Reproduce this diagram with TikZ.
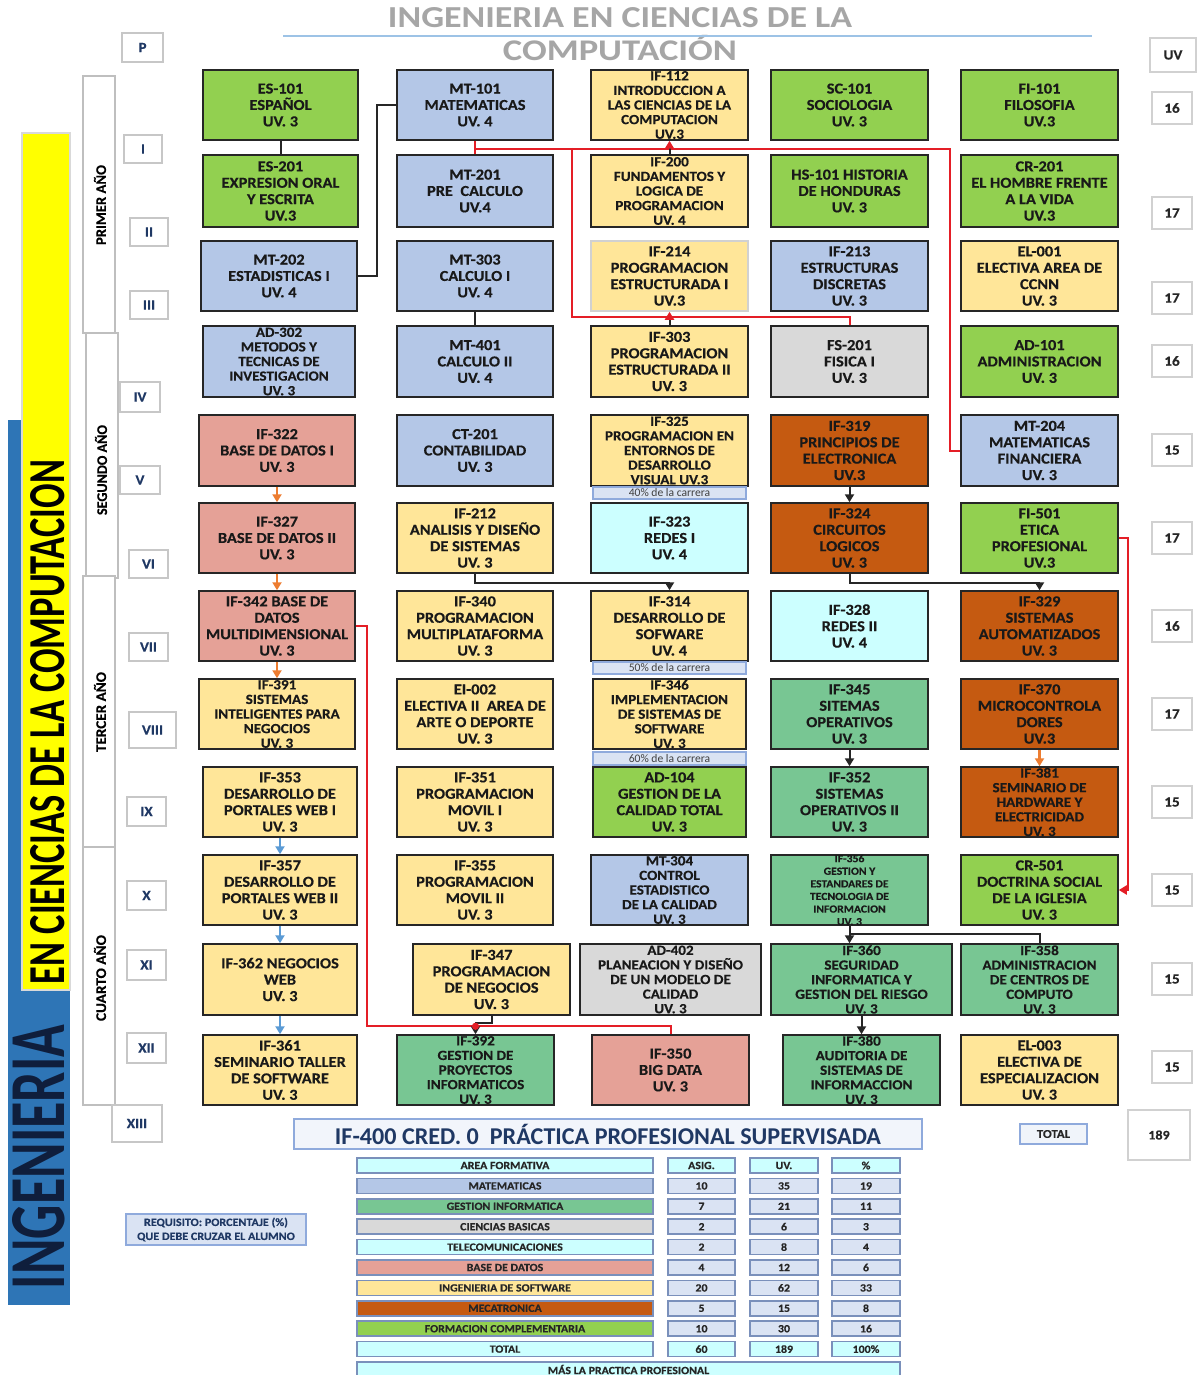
\documentclass[tikz,border=0pt]{standalone}
\usepackage{graphicx}
\usepackage{fontspec}
\setmainfont{Carlito}
\newfontfamily\crsfamily{Carlito}[FakeStretch=1.08,FakeBold=0.4]
\usetikzlibrary{arrows.meta,calc}
\definecolor{cgreen}{HTML}{92D050}
\definecolor{cblue}{HTML}{B4C7E7}
\definecolor{cyel}{HTML}{FFE699}
\definecolor{cgray}{HTML}{D9D9D9}
\definecolor{csal}{HTML}{E5A197}
\definecolor{corg}{HTML}{C55A11}
\definecolor{ccyan}{HTML}{CCFFFF}
\definecolor{cteal}{HTML}{78C693}
\definecolor{clav}{HTML}{DAE3F3}
\definecolor{cbord}{HTML}{8FAADC}
\definecolor{cnavy}{HTML}{1F3864}
\definecolor{carrO}{HTML}{ED7D31}
\definecolor{carrB}{HTML}{5B9BD5}
\definecolor{cred}{HTML}{E41E26}
\definecolor{cband}{HTML}{2E75B6}
\definecolor{ctitle}{HTML}{A6A6A6}
\definecolor{cline}{HTML}{9DC3E6}
\definecolor{cingen}{HTML}{0F1E3C}
\definecolor{cband2}{HTML}{FFFF00}

\newcommand\mybx[7]{%
  \pgfmathsetmacro\bxW{((#3)-(#2))*0.5}%
  \pgfmathsetmacro\bxH{((#5)-(#4))*0.5}%
  \pgfmathsetmacro\bxX{((#2)+(#3))/2}%
  \pgfmathsetmacro\bxY{((#4)+(#5))/2}%
  \node[#6,minimum width=\bxW pt,minimum height=\bxH pt] (#1) at (\bxX,\bxY) {#7};}
\newcommand\mycrs[8][ctext]{%
  \mybx{#2}{#3}{#4}{#5}{#6}{course,fill=#7}{}%
  \node[#1] (#2t) at (#2.center) {#8};}

\tikzset{
  course/.style={draw=black!85,line width=0.75pt,inner sep=0pt},
  ctext/.style={align=center,inner sep=0pt,text=black!90,font=\crsfamily\bfseries\fontsize{7.6}{8.2}\selectfont},
  ctextS/.style={ctext,font=\crsfamily\bfseries\fontsize{7}{7.3}\selectfont},
  ctextXS/.style={ctext,font=\crsfamily\bfseries\fontsize{5.4}{6.3}\selectfont},
  semb/.style={draw=black!22,line width=0.9pt,fill=white,inner sep=0pt,text=cnavy,font=\crsfamily\bfseries\fontsize{7}{8}\selectfont},
  yearb/.style={draw=black!25,line width=1pt,fill=white,inner sep=0pt},
  yeart/.style={rotate=90,inner sep=0pt,text=black,font=\crsfamily\bfseries},
  uvb/.style={draw=black!18,line width=0.9pt,fill=white,inner sep=0pt,text=black!85,font=\crsfamily\bfseries\fontsize{7}{8}\selectfont},
  pct/.style={draw=cbord,line width=0.8pt,fill=clav,inner sep=0pt,text=black!75,font=\fontsize{5.8}{6}\selectfont},
  tcell/.style={draw=cbord!85!black,line width=0.8pt,inner sep=0pt,text=black!85,font=\crsfamily\bfseries\fontsize{5.5}{6}\selectfont},
  blk/.style={draw=black!85,line width=1pt},
  blkA/.style={blk,-{Triangle[length=4pt,width=4.5pt]}},
  blkR/.style={blk,-{Triangle[length=4pt,width=4.5pt,color=cred]}},
  orgA/.style={draw=carrO,line width=1.2pt,-{Triangle[length=4pt,width=4.5pt]}},
  bluA/.style={draw=carrB,line width=1.2pt,-{Triangle[length=4pt,width=4.5pt]}},
  redl/.style={draw=cred,line width=1pt},
  redA/.style={redl,-{Triangle[length=4pt,width=4.5pt]}}
}

\begin{document}
\begin{tikzpicture}[x=0.5pt,y=-0.5pt]
\useasboundingbox (0,0) rectangle (1196,1375);
\fill[white] (0,0) rectangle (1196,1375);

% ---------- title ----------
\node[inner sep=0pt,text=ctitle] (title1) at (620,18) {\resizebox{232pt}{10pt}{\bfseries INGENIERIA EN CIENCIAS DE LA}};
\node[inner sep=0pt,text=ctitle] (title2) at (620,48) {\resizebox{117pt}{12.6pt}{\bfseries COMPUTACIÓN}};
\draw[cline,line width=1.1pt] (283,36) -- (1092,36);

% ---------- left bands ----------
\fill[cband] (8,420) rectangle (70,1305);
\fill[cband2] (22,133) rectangle (70,990);
\draw[black!15,line width=0.6pt] (22,133) rectangle (70,990);
\node[rotate=90,inner sep=0pt,text=black] (bant1) at (48,722) {\resizebox{262pt}{17pt}{\bfseries EN CIENCIAS DE LA COMPUTACION}};
\node[rotate=90,inner sep=0pt,text=cingen] (bant2) at (39,1157) {\resizebox{132pt}{26pt}{\bfseries INGENIERIA}};

% ---------- year boxes ----------
\mybx{yr1}{83}{115}{76}{333}{yearb}{}
\mybx{yr2}{86}{118}{333}{578}{yearb}{}
\mybx{yr3}{83}{115}{576}{847}{yearb}{}
\mybx{yr4}{83}{115}{847}{1105}{yearb}{}
\node[yeart] (yr1t) at (100,205) {\resizebox{40pt}{6pt}{PRIMER AÑO}};
\node[yeart] (yr2t) at (101,470) {\resizebox{45pt}{6pt}{SEGUNDO AÑO}};
\node[yeart] (yr3t) at (100,712) {\resizebox{40pt}{6pt}{TERCER AÑO}};
\node[yeart] (yr4t) at (100,978) {\resizebox{43pt}{6pt}{CUARTO AÑO}};

% ---------- semester boxes ----------
\mybx{semP}{122}{163}{33}{62}{semb}{P}
\mybx{sem1}{124}{162}{135}{163}{semb}{I}
\mybx{sem2}{130}{168}{218}{246}{semb}{II}
\mybx{sem3}{130}{168}{291}{319}{semb}{III}
\mybx{sem4}{120}{160}{382}{412}{semb}{IV}
\mybx{sem5}{120}{160}{466}{494}{semb}{V}
\mybx{sem6}{129}{168}{550}{578}{semb}{VI}
\mybx{sem7}{129}{168}{633}{661}{semb}{VII}
\mybx{sem8}{129}{176}{712}{748}{semb}{VIII}
\mybx{sem9}{127}{166}{797}{826}{semb}{IX}
\mybx{sem10}{127}{166}{881}{910}{semb}{X}
\mybx{sem11}{127}{166}{950}{980}{semb}{XI}
\mybx{sem12}{127}{166}{1033}{1063}{semb}{XII}
\mybx{sem13}{112}{162}{1105}{1142}{semb}{XIII}

% ---------- UV column ----------
\mybx{uvh}{1150}{1196}{38}{72}{uvb}{UV}
\mybx{uv1}{1152}{1192}{92}{124}{uvb}{16}
\mybx{uv2}{1152}{1192}{197}{229}{uvb}{17}
\mybx{uv3}{1152}{1192}{282}{314}{uvb}{17}
\mybx{uv4}{1152}{1192}{345}{377}{uvb}{16}
\mybx{uv5}{1152}{1192}{434}{466}{uvb}{15}
\mybx{uv6}{1152}{1192}{522}{554}{uvb}{17}
\mybx{uv7}{1152}{1192}{610}{642}{uvb}{16}
\mybx{uv8}{1152}{1192}{698}{730}{uvb}{17}
\mybx{uv9}{1152}{1192}{786}{818}{uvb}{15}
\mybx{uv10}{1152}{1192}{874}{906}{uvb}{15}
\mybx{uv11}{1152}{1192}{963}{995}{uvb}{15}
\mybx{uv12}{1152}{1192}{1051}{1083}{uvb}{15}

% ---------- courses ----------
% row 1
\mycrs{es101}{203}{358}{70}{140}{cgreen}{ES-101\\ESPAÑOL\\UV. 3}
\mycrs{mt101}{397}{553}{70}{140}{cblue}{MT-101\\MATEMATICAS\\UV. 4}
\mycrs[ctextS]{if112}{591}{748}{70}{140}{cyel}{IF-112\\INTRODUCCION A\\LAS CIENCIAS DE LA\\COMPUTACION\\UV.3}
\mycrs{sc101}{771}{928}{70}{140}{cgreen}{SC-101\\SOCIOLOGIA\\UV. 3}
\mycrs{fi101}{961}{1118}{70}{140}{cgreen}{FI-101\\FILOSOFIA\\UV.3}
% row 2
\mycrs{es201}{203}{358}{155}{227}{cgreen}{ES-201\\EXPRESION ORAL\\Y ESCRITA\\UV.3}
\mycrs{mt201}{397}{553}{155}{227}{cblue}{MT-201\\PRE\ \ CALCULO\\UV.4}
\mycrs[ctextS]{if200}{591}{748}{155}{227}{cyel}{IF-200\\FUNDAMENTOS Y\\LOGICA DE\\PROGRAMACION\\UV. 4}
\mycrs{hs101}{771}{928}{155}{227}{cgreen}{HS-101 HISTORIA\\DE HONDURAS\\UV. 3}
\mycrs{cr201}{961}{1118}{155}{227}{cgreen}{CR-201\\EL HOMBRE FRENTE\\A LA VIDA\\UV.3}
% row 3
\mycrs{mt202}{201}{357}{241}{311}{cblue}{MT-202\\ESTADISTICAS I\\UV. 4}
\mycrs{mt303}{397}{553}{241}{311}{cblue}{MT-303\\CALCULO I\\UV. 4}
\mycrs{if214}{591}{748}{241}{311}{cyel,draw=black!18}{IF-214\\PROGRAMACION\\ESTRUCTURADA I\\UV.3}
\mycrs{if213}{771}{928}{241}{311}{cblue}{IF-213\\ESTRUCTURAS\\DISCRETAS\\UV. 3}
\mycrs{el001}{961}{1118}{241}{311}{cyel}{EL-001\\ELECTIVA AREA DE\\CCNN\\UV. 3}
% row 4
\mycrs[ctextS]{ad302}{203}{355}{326}{397}{cblue}{AD-302\\METODOS Y\\TECNICAS DE\\INVESTIGACION\\UV. 3}
\mycrs{mt401}{397}{553}{326}{397}{cblue}{MT-401\\CALCULO II\\UV. 4}
\mycrs{if303}{591}{748}{326}{397}{cyel}{IF-303\\PROGRAMACION\\ESTRUCTURADA II\\UV. 3}
\mycrs{fs201}{771}{928}{326}{397}{cgray}{FS-201\\FISICA I\\UV. 3}
\mycrs{ad101}{961}{1118}{326}{397}{cgreen}{AD-101\\ADMINISTRACION\\UV. 3}
% row 5
\mycrs{if322}{199}{355}{415}{486}{csal}{IF-322\\BASE DE DATOS I\\UV. 3}
\mycrs{ct201}{397}{553}{415}{486}{cblue}{CT-201\\CONTABILIDAD\\UV. 3}
\mycrs[ctextS]{if325}{591}{748}{415}{486}{cyel}{IF-325\\PROGRAMACION EN\\ENTORNOS DE\\DESARROLLO\\VISUAL UV.3}
\mycrs{if319}{771}{928}{415}{486}{corg}{IF-319\\PRINCIPIOS DE\\ELECTRONICA\\UV.3}
\mycrs{mt204}{961}{1118}{415}{486}{cblue}{MT-204\\MATEMATICAS\\FINANCIERA\\UV. 3}
\mybx{pct40}{593}{746}{487}{499}{pct}{40\% de la carrera}
% row 6
\mycrs{if327}{199}{355}{503}{573}{csal}{IF-327\\BASE DE DATOS II\\UV. 3}
\mycrs{if212}{397}{553}{503}{573}{cyel}{IF-212\\ANALISIS Y DISEÑO\\DE SISTEMAS\\UV. 3}
\mycrs{if323}{591}{748}{503}{573}{ccyan}{IF-323\\REDES I\\UV. 4}
\mycrs{if324}{771}{928}{503}{573}{corg}{IF-324\\CIRCUITOS\\LOGICOS\\UV. 3}
\mycrs{fi501}{961}{1118}{503}{573}{cgreen}{FI-501\\ETICA\\PROFESIONAL\\UV.3}
% row 7
\mycrs{if342}{199}{355}{591}{661}{csal}{IF-342 BASE DE\\DATOS\\MULTIDIMENSIONAL\\UV. 3}
\mycrs{if340}{397}{553}{591}{661}{cyel}{IF-340\\PROGRAMACION\\MULTIPLATAFORMA\\UV. 3}
\mycrs{if314}{591}{748}{591}{661}{cyel}{IF-314\\DESARROLLO DE\\SOFWARE\\UV. 4}
\mycrs{if328}{771}{928}{591}{661}{ccyan}{IF-328\\REDES II\\UV. 4}
\mycrs{if329}{961}{1118}{591}{661}{corg}{IF-329\\SISTEMAS\\AUTOMATIZADOS\\UV. 3}
\mybx{pct50}{593}{746}{662}{674}{pct}{50\% de la carrera}
% row 8
\mycrs[ctextS]{if391}{199}{355}{679}{749}{cyel}{IF-391\\SISTEMAS\\INTELIGENTES PARA\\NEGOCIOS\\UV. 3}
\mycrs{ei002}{397}{553}{679}{749}{cyel}{EI-002\\ELECTIVA II\ \ AREA DE\\ARTE O DEPORTE\\UV. 3}
\mycrs[ctextS]{if346}{593}{746}{679}{749}{cyel}{IF-346\\IMPLEMENTACION\\DE SISTEMAS DE\\SOFTWARE\\UV. 3}
\mycrs{if345}{771}{928}{679}{749}{cteal}{IF-345\\SITEMAS\\OPERATIVOS\\UV. 3}
\mycrs{if370}{961}{1118}{679}{749}{corg}{IF-370\\MICROCONTROLA\\DORES\\UV.3}
\mybx{pct60}{593}{746}{752}{765}{pct}{60\% de la carrera}
% row 9
\mycrs{if353}{203}{357}{767}{837}{cyel}{IF-353\\DESARROLLO DE\\PORTALES WEB I\\UV. 3}
\mycrs{if351}{397}{553}{767}{837}{cyel}{IF-351\\PROGRAMACION\\MOVIL I\\UV. 3}
\mycrs{ad104}{593}{746}{767}{837}{cgreen}{AD-104\\GESTION DE LA\\CALIDAD TOTAL\\UV. 3}
\mycrs{if352}{771}{928}{767}{837}{cteal}{IF-352\\SISTEMAS\\OPERATIVOS II\\UV. 3}
\mycrs[ctextS]{if381}{961}{1118}{767}{837}{corg}{IF-381\\SEMINARIO DE\\HARDWARE Y\\ELECTRICIDAD\\UV. 3}
% row 10
\mycrs{if357}{203}{357}{855}{925}{cyel}{IF-357\\DESARROLLO DE\\PORTALES WEB II\\UV. 3}
\mycrs{if355}{397}{553}{855}{925}{cyel}{IF-355\\PROGRAMACION\\MOVIL II\\UV. 3}
\mycrs[ctextS]{mt304}{591}{748}{855}{925}{cblue}{MT-304\\CONTROL\\ESTADISTICO\\DE LA CALIDAD\\UV. 3}
\mycrs[ctextXS]{if356}{771}{928}{855}{925}{cteal}{IF-356\\GESTION Y\\ESTANDARES DE\\TECNOLOGIA DE\\INFORMACION\\UV. 3}
\mycrs{cr501}{961}{1118}{855}{925}{cgreen}{CR-501\\DOCTRINA SOCIAL\\DE LA IGLESIA\\UV. 3}
% row 11
\mycrs{if362}{203}{357}{944}{1015}{cyel}{IF-362 NEGOCIOS\\WEB\\UV. 3}
\mycrs{if347}{413}{570}{944}{1015}{cyel}{IF-347\\PROGRAMACION\\DE NEGOCIOS\\UV. 3}
\mycrs[ctextS]{ad402}{580}{761}{944}{1015}{cgray}{AD-402\\PLANEACION Y DISEÑO\\DE UN MODELO DE\\CALIDAD\\UV. 3}
\mycrs[ctextS]{if360}{771}{952}{944}{1015}{cteal}{IF-360\\SEGURIDAD\\INFORMATICA Y\\GESTION DEL RIESGO\\UV. 3}
\mycrs[ctextS]{if358}{961}{1118}{944}{1015}{cteal}{IF-358\\ADMINISTRACION\\DE CENTROS DE\\COMPUTO\\UV. 3}
% row 12
\mycrs{if361}{203}{357}{1035}{1105}{cyel}{IF-361\\SEMINARIO TALLER\\DE SOFTWARE\\UV. 3}
\mycrs[ctextS]{if392}{397}{554}{1035}{1105}{cteal}{IF-392\\GESTION DE\\PROYECTOS\\INFORMATICOS\\UV. 3}
\mycrs{if350}{592}{749}{1035}{1105}{csal}{IF-350\\BIG DATA\\UV. 3}
\mycrs[ctextS]{if380}{783}{940}{1035}{1105}{cteal}{IF-380\\AUDITORIA DE\\SISTEMAS DE\\INFORMACCION\\UV. 3}
\mycrs{el003}{961}{1118}{1035}{1105}{cyel}{EL-003\\ELECTIVA DE\\ESPECIALIZACION\\UV. 3}

% ---------- connectors ----------
\draw[blk] (es101.south) -- (es201.north);
\draw[blk] (mt202.east) -- ++(19,0) |- (mt101.west);
\draw[blk] (mt303.south) -- (mt401.north);
\draw[redl] (mt101.south) -- (mt201.north);
\coordinate (rA) at ($(mt101.south)+(0,8)$);
\coordinate (rB) at (572,148);
\draw[redl] (rA) -| ($(mt204.west)+(-10,0)$) -- (mt204.west);
\draw[redl] (rB) |- ($(fs201.north)+(0,-8)$) -- (fs201.north);
\draw[blkR] (if200.north) -- (if112.south);
\draw[blkR] (if303.north) -- (if214.south);
\draw[blkA] (if319.south) -- (if324.north);
\draw[blkA] (if324.south) -- ++(0,9) -| (if329.north);
\draw[blkA] (if212.south) -- ++(0,9) -| (if314.north);
\draw[blkA] (if345.south) -- (if352.north);
\draw[blkA] (if356.south) -- (if356.south |- if360.north);
\draw[blk] ($(if356.south)+(0,8)$) -| (if358.north);
\draw[blkA] (if360.south) -- (if380.north);
\draw[redl] (if342.east) -- ++(11,0) |- ($(if350.north)+(0,-8)$) -- (if350.north);
\draw[blkA] (if347.south) -- ++(0,7) -| (if392.north);
\fill[cred] ($(if392.north)+(0,-8)$) circle[radius=1.8pt];
\draw[redA] (fi501.east) -- ++(9,0) |- (cr501.east);
\draw[orgA] (if322.south) -- (if327.north);
\draw[orgA] (if327.south) -- (if342.north);
\draw[orgA] (if342.south) -- (if391.north);
\draw[orgA] (if370.south) -- (if381.north);
\draw[bluA] (if353.south) -- (if357.north);
\draw[bluA] (if357.south) -- (if362.north);
\draw[bluA] (if362.south) -- (if361.north);

% ---------- bottom ----------
\mybx{if400}{294}{922}{1119}{1149}{draw=cbord,line width=1.1pt,fill=clav!35,inner sep=0pt,text=cnavy}{\resizebox{273pt}{!}{\bfseries IF-400 CRED. 0\ \ PRÁCTICA PROFESIONAL SUPERVISADA}}
\mybx{totl}{1020}{1087}{1124}{1144}{draw=cbord,line width=1pt,fill=clav!40,inner sep=0pt,text=black!85,font=\crsfamily\bfseries\fontsize{6}{7}\selectfont}{TOTAL}
\mybx{tot}{1128}{1190}{1110}{1160}{uvb,font=\crsfamily\bfseries\fontsize{6.5}{7}\selectfont}{189}
\mybx{req}{126}{306}{1214}{1245}{draw=cbord,line width=1pt,fill=clav,inner sep=0pt,align=center,text=cnavy,font=\crsfamily\bfseries\fontsize{5.6}{7}\selectfont}{REQUISITO: PORCENTAJE (\%)\\QUE DEBE CRUZAR EL ALUMNO}

\foreach \i/\lab/\lc/\a/\u/\p/\nc in {
0/AREA FORMATIVA/ccyan/ASIG./UV./\%/ccyan,
1/MATEMATICAS/cblue/10/35/19/clav,
2/GESTION INFORMATICA/cteal/7/21/11/clav,
3/CIENCIAS BASICAS/cgray/2/6/3/clav,
4/TELECOMUNICACIONES/ccyan/2/8/4/clav,
5/BASE DE DATOS/csal/4/12/6/clav,
6/INGENIERIA DE SOFTWARE/cyel/20/62/33/clav,
7/MECATRONICA/corg/5/15/8/clav,
8/FORMACION COMPLEMENTARIA/cgreen/10/30/16/clav,
9/TOTAL/ccyan/60/189/100\%/ccyan}{
  \pgfmathsetmacro\ty{1158+20.4*\i}
  \pgfmathsetmacro\tyb{\ty+15}
  \mybx{tl\i}{357}{653}{\ty}{\tyb}{tcell,fill=\lc}{\lab}
  \mybx{ta\i}{668}{735}{\ty}{\tyb}{tcell,fill=\nc}{\a}
  \mybx{tu\i}{750}{818}{\ty}{\tyb}{tcell,fill=\nc}{\u}
  \mybx{tp\i}{832}{900}{\ty}{\tyb}{tcell,fill=\nc}{\p}
}
\mybx{tl10}{357}{900}{1362}{1377}{tcell,fill=ccyan}{MÁS LA PRACTICA PROFESIONAL}
\end{tikzpicture}
\end{document}
